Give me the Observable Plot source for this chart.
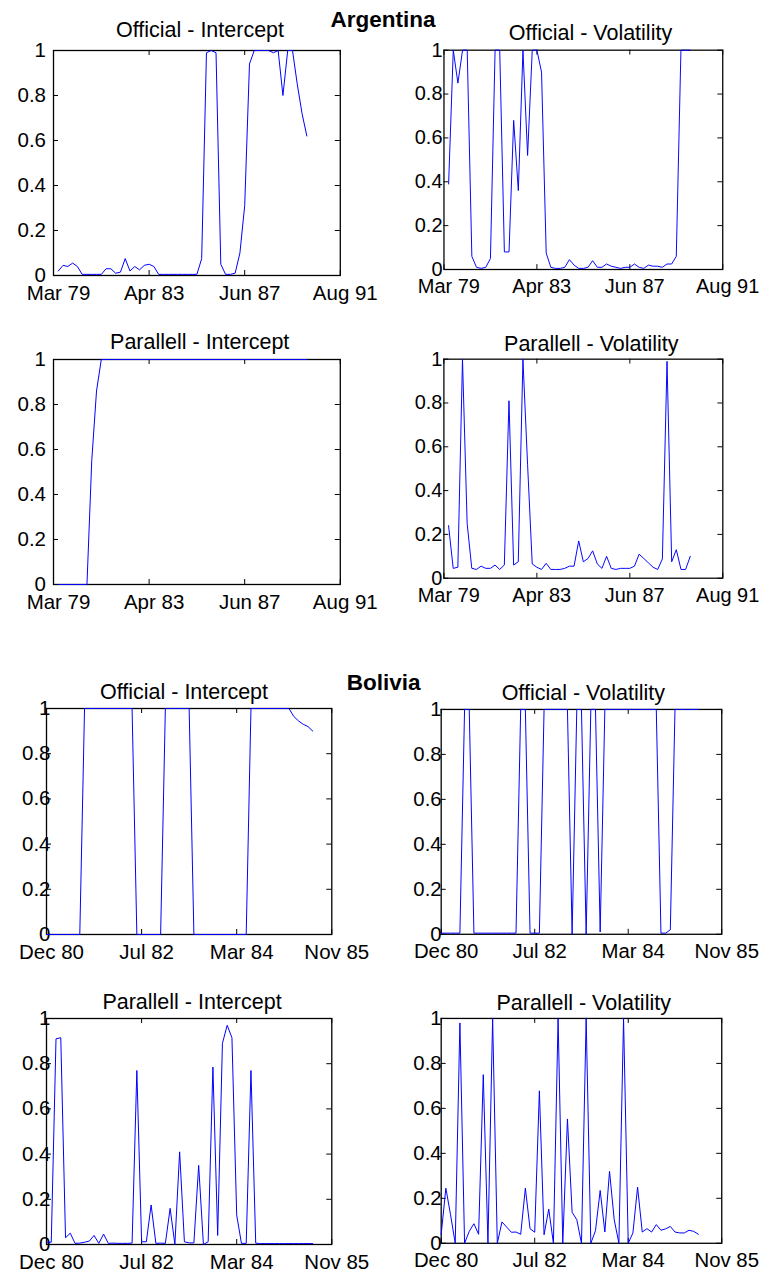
<!DOCTYPE html>
<html>
<head>
<meta charset="utf-8">
<script src="https://cdn.jsdelivr.net/npm/d3@7"></script>
<script src="https://cdn.jsdelivr.net/npm/@observablehq/plot@0.6"></script>
<style>
  html, body { margin: 0; padding: 0; background: #fff; }
  #page { position: relative; width: 771px; height: 1273px; overflow: hidden; background: #fff;
          font-family: "Liberation Sans", Arial, Helvetica, sans-serif; color: #000; }
  .panel { position: absolute; }
  .title { position: absolute; white-space: nowrap; line-height: 1; transform: translateX(-50%); color: #000; }
</style>
</head>
<body>
<div id="page"></div>
<script>
// ---------- tick labels ----------
const argTickLabels = ["Mar 79", "Apr 83", "Jun 87", "Aug 91"];
const bolTickLabels = ["Dec 80", "Jul 82", "Mar 84", "Nov 85"];
const xTickIndex = [0, 20, 40, 60];
const yTicks = [0, 0.2, 0.4, 0.6, 0.8, 1];

// ---------- Argentina (observations 1..53) ----------
const argStart = 1;
const argOfficialIntercept = [
  0.02, 0.045, 0.04, 0.055, 0.04, 0.005, 0.005, 0.005, 0.005, 0.005,
  0.03, 0.03, 0.01, 0.015, 0.075, 0.02, 0.04, 0.025, 0.045, 0.05,
  0.04, 0.005, 0.005, 0.005, 0.005, 0.005, 0.005, 0.005, 0.005, 0.005,
  0.075, 0.99, 1, 0.99, 0.05, 0.005, 0.005, 0.01, 0.1, 0.31,
  0.94, 1, 1, 1, 1, 0.99, 1, 0.8, 1, 1,
  0.85, 0.72, 0.62
];
const argOfficialVolatility = [
  0.39, 1, 0.85, 1, 1, 0.06, 0.01, 0.005, 0.01, 0.05,
  1, 1, 0.08, 0.08, 0.68, 0.36, 1, 0.52, 1, 1,
  0.9, 0.075, 0.01, 0.005, 0.005, 0.01, 0.045, 0.02, 0.005, 0.005,
  0.01, 0.04, 0.01, 0.01, 0.025, 0.015, 0.01, 0.005, 0.01, 0.01,
  0.025, 0.01, 0.005, 0.02, 0.015, 0.015, 0.01, 0.025, 0.025, 0.06,
  1, 1, 1
];
const argParallelIntercept = [
  0, 0, 0, 0, 0, 0, 0, 0.55, 0.86, 1,
  1, 1, 1, 1, 1, 1, 1, 1, 1, 1,
  1, 1, 1, 1, 1, 1, 1, 1, 1, 1,
  1, 1, 1, 1, 1, 1, 1, 1, 1, 1,
  1, 1, 1, 1, 1, 1, 1, 1, 1, 1,
  1, 1, 1
];
const argParallelVolatility = [
  0.24, 0.045, 0.05, 1, 0.25, 0.045, 0.04, 0.055, 0.045, 0.045,
  0.06, 0.04, 0.06, 0.81, 0.06, 0.075, 1, 0.52, 0.065, 0.05,
  0.04, 0.068, 0.04, 0.04, 0.04, 0.045, 0.055, 0.055, 0.17, 0.075,
  0.09, 0.125, 0.065, 0.045, 0.1, 0.045, 0.04, 0.045, 0.045, 0.045,
  0.055, 0.11, 0.09, 0.07, 0.05, 0.04, 0.088, 0.99, 0.075, 0.13,
  0.04, 0.04, 0.1
];

// ---------- Bolivia (observations from 0) ----------
const bolStart = 0;
const bolOfficialIntercept = [
  0, 0, 0, 0, 0, 0, 0, 0, 1, 1,
  1, 1, 1, 1, 1, 1, 1, 1, 1, 0,
  0, 0, 0, 0, 0, 1, 1, 1, 1, 1,
  1, 0, 0, 0, 0, 0, 0, 0, 0, 0,
  0, 0, 0, 1, 1, 1, 1, 1, 1, 1,
  1, 1, 0.965, 0.945, 0.93, 0.92, 0.9
];
const bolOfficialVolatility = [
  0.005, 0.005, 0.005, 0.005, 0.005, 1, 1, 0.005, 0.005, 0.005,
  0.005, 0.005, 0.005, 0.005, 0.005, 0.005, 0.005, 1, 1, 0.005,
  0.005, 0.005, 1, 1, 1, 1, 1, 1, 0, 1,
  1, 0, 1, 1, 0.01, 1, 1, 1, 1, 1,
  1, 1, 1, 1, 1, 1, 1, 0.005, 0.005, 0.02,
  1, 1, 1, 1, 1, 1
];
const bolParallelIntercept = [
  0.01, 0.01, 0.91, 0.915, 0.03, 0.05, 0.005, 0.006, 0.01, 0.015,
  0.04, 0.005, 0.046, 0.005, 0.006, 0.005, 0.005, 0.005, 0.006, 0.77,
  0.012, 0.012, 0.175, 0.005, 0.006, 0.005, 0.16, 0, 0.41, 0.012,
  0.007, 0.007, 0.35, 0, 0.012, 0.785, 0.04, 0.89, 0.97, 0.915,
  0.13, 0.005, 0.005, 0.77, 0.006, 0.004, 0.004, 0.004, 0.004, 0.004,
  0.004, 0.004, 0.004, 0.004, 0.004, 0.004, 0.004
];
const bolParallelVolatility = [
  0.04, 0.245, 0.127, 0, 0.98, 0, 0.053, 0.087, 0.04, 0.75,
  0, 1, 0, 0.095, 0.072, 0.049, 0.05, 0.04, 0.245, 0.065,
  0.049, 0.678, 0.038, 0.152, 0, 1, 0, 0.553, 0.138, 0.105,
  0, 1, 0, 0.056, 0.235, 0.05, 0.32, 0.105, 0, 1,
  0, 0.046, 0.25, 0.05, 0.065, 0.05, 0.083, 0.058, 0.064, 0.075,
  0.05, 0.046, 0.046, 0.058, 0.053, 0.04
];

// ---------- layout (frame positions in page pixels) ----------
const FONT = '"Liberation Sans", Arial, Helvetica, sans-serif';
const page = document.getElementById("page");

function addText(str, cx, baseline, size, bold) {
  const d = document.createElement("div");
  d.className = "title";
  d.textContent = str;
  d.style.fontSize = size + "px";
  d.style.fontWeight = bold ? "bold" : "normal";
  d.style.left = cx + "px";
  d.style.top = (baseline - 0.8465 * size) + "px";
  page.appendChild(d);
}

function panel(cfg) {
  const { values, start, labels, left, top, w, h, yPad } = cfg;
  const data = values.map((v, i) => ({ x: start + i, y: v }));
  const ML = 60, MR = 50, MT = 12, MB = 40;
  const chart = Plot.plot({
    width: ML + w + MR,
    height: MT + h + MB,
    marginLeft: ML, marginRight: MR, marginTop: MT, marginBottom: MB,
    x: { type: "linear", domain: [0, 60] },
    y: { type: "linear", domain: [0, 1] },
    style: { fontFamily: FONT, fontSize: "20.5px", color: "#000", background: "transparent", overflow: "visible" },
    marks: [
      Plot.frame({ stroke: "#000", strokeWidth: 1.3 }),
      Plot.tickY(yTicks, { y: d => d, stroke: "#000", insetRight: w - 5 }),
      Plot.tickY(yTicks, { y: d => d, stroke: "#000", insetLeft: w - 5 }),
      Plot.tickX(xTickIndex, { x: d => d, stroke: "#000", insetTop: h - 5 }),
      Plot.tickX(xTickIndex, { x: d => d, stroke: "#000", insetBottom: h - 5 }),
      Plot.axisY({ ticks: yTicks, tickSize: 0, tickPadding: yPad, tickFormat: d => String(d), label: null }),
      Plot.axisX({ ticks: xTickIndex, tickSize: 0, tickPadding: 9.5, dx: 5,
                   tickFormat: d => labels[xTickIndex.indexOf(d)], label: null }),
      Plot.line(data, { x: "x", y: "y", stroke: "#0000ff", strokeWidth: 1 })
    ]
  });
  const wrap = document.createElement("div");
  wrap.className = "panel";
  wrap.style.left = (left - ML) + "px";
  wrap.style.top = (top - MT) + "px";
  wrap.appendChild(chart);
  page.appendChild(wrap);
}

const panels = [
  { values: argOfficialIntercept, start: argStart, labels: argTickLabels, left: 52.5, top: 50, w: 286.8, h: 225, yPad: 7.5,
    title: "Official - Intercept", tx: 200, tb: 38.5 },
  { values: argOfficialVolatility, start: argStart, labels: argTickLabels, left: 445, top: 50, w: 286, h: 225, yPad: 1.5,
    title: "Official - Volatility", tx: 590.5, tb: 41 },
  { values: argParallelIntercept, start: argStart, labels: argTickLabels, left: 52.5, top: 359.3, w: 286.8, h: 225, yPad: 7.5,
    title: "Parallell - Intercept", tx: 199.7, tb: 350.4 },
  { values: argParallelVolatility, start: argStart, labels: argTickLabels, left: 445, top: 359.3, w: 286.5, h: 225, yPad: 1.5,
    title: "Parallell - Volatility", tx: 591.3, tb: 352 },
  { values: bolOfficialIntercept, start: bolStart, labels: bolTickLabels, left: 45.7, top: 708.3, w: 285.3, h: 226, yPad: -4,
    title: "Official - Intercept", tx: 184, tb: 700.4 },
  { values: bolOfficialVolatility, start: bolStart, labels: bolTickLabels, left: 441, top: 708.5, w: 282, h: 226, yPad: -0.5,
    title: "Official - Volatility", tx: 583.3, tb: 701 },
  { values: bolParallelIntercept, start: bolStart, labels: bolTickLabels, left: 45.7, top: 1018.3, w: 285.3, h: 226, yPad: -4,
    title: "Parallell - Intercept", tx: 192, tb: 1010.4 },
  { values: bolParallelVolatility, start: bolStart, labels: bolTickLabels, left: 441, top: 1018.3, w: 282, h: 226, yPad: -0.5,
    title: "Parallell - Volatility", tx: 583.7, tb: 1011 }
];

panels.forEach(p => { panel(p); addText(p.title, p.tx, p.tb, 21.5, false); });
addText("Argentina", 383, 28.3, 22.5, true);
addText("Bolivia", 383.7, 691, 22.5, true);
</script>
</body>
</html>
